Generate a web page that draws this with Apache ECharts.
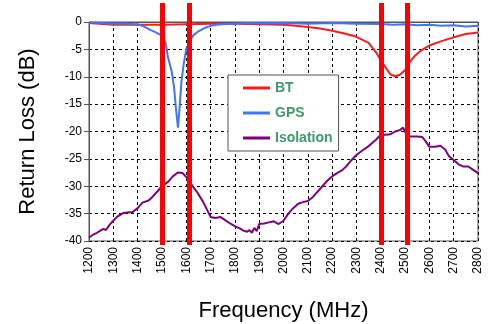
<!DOCTYPE html>
<html>
<head>
<meta charset="utf-8">
<script src="https://cdn.jsdelivr.net/npm/echarts@6/dist/echarts.min.js"></script>
<style>
  html, body { margin: 0; padding: 0; background: #fff; }
  #chart { width: 494px; height: 324px; }
</style>
</head>
<body>
<div id="chart"></div>
<script>
// frequency (MHz) / return loss (dB)
const btFreq = [1200, 1300, 1400, 1500, 1600, 1700, 1800, 1900, 2000, 2050, 2100, 2150, 2200, 2250, 2300, 2350, 2380, 2400, 2420, 2440, 2460, 2480, 2500, 2520, 2540, 2560, 2580, 2600, 2650, 2700, 2750, 2800];
const btLoss = [-0.2, -0.5, -0.5, -0.5, -0.4, -0.3, -0.3, -0.4, -0.5, -0.7, -0.9, -1.2, -1.6, -2.1, -2.7, -3.8, -5.5, -7.0, -8.3, -9.6, -9.9, -9.6, -8.8, -7.3, -6.2, -5.4, -4.8, -4.3, -3.5, -2.8, -2.2, -1.9];

const gpsFreq = [1200, 1250, 1300, 1350, 1400, 1425, 1450, 1475, 1500, 1515, 1525, 1540, 1550, 1558, 1566, 1572, 1580, 1590, 1600, 1615, 1630, 1650, 1675, 1700, 1725, 1750, 1800, 1850, 1900, 2000, 2100, 2200, 2300, 2400, 2450, 2500, 2550, 2600, 2650, 2700, 2750, 2800];
const gpsLoss = [-0.1, -0.2, -0.3, -0.3, -0.4, -0.8, -1.4, -1.9, -2.5, -3.8, -6.5, -9, -12, -16, -19.3, -16, -11, -7.5, -5, -3.4, -2.4, -1.7, -1.1, -0.7, -0.5, -0.4, -0.3, -0.2, -0.25, -0.2, -0.3, -0.2, -0.3, -0.35, -0.5, -0.4, -0.6, -0.5, -0.7, -0.6, -0.8, -0.7];

const isoFreq = [1200, 1215, 1233, 1250, 1260, 1270, 1285, 1300, 1315, 1340, 1360, 1380, 1400, 1420, 1445, 1460, 1480, 1500, 1525, 1545, 1565, 1585, 1600, 1615, 1630, 1645, 1670, 1700, 1720, 1740, 1760, 1780, 1800, 1820, 1835, 1850, 1860, 1870, 1880, 1890, 1900, 1920, 1940, 1960, 1980, 2000, 2020, 2040, 2060, 2080, 2100, 2120, 2140, 2160, 2180, 2200, 2220, 2240, 2260, 2280, 2300, 2320, 2340, 2360, 2380, 2400, 2420, 2440, 2460, 2480, 2492, 2505, 2520, 2550, 2570, 2585, 2600, 2625, 2645, 2665, 2680, 2700, 2720, 2740, 2760, 2780, 2800];
const isoLoss = [-39.4, -38.9, -38.5, -38.0, -37.8, -38.0, -37.0, -36.3, -35.6, -34.9, -34.8, -34.7, -34.0, -33.0, -32.6, -32.0, -31.0, -30.0, -29.2, -28.2, -27.5, -27.6, -28.3, -29.3, -30.2, -31.1, -32.9, -35.6, -35.8, -35.6, -36.2, -36.8, -37.3, -37.7, -38.1, -38.3, -38.0, -38.5, -37.6, -38.2, -36.9, -36.8, -36.6, -36.4, -36.9, -36.3, -35.0, -34.0, -33.2, -32.9, -32.7, -32.0, -31.0, -30.0, -29.0, -28.2, -27.6, -27.1, -26.3, -25.2, -24.3, -23.6, -23.0, -22.3, -21.5, -20.6, -20.6, -20.5, -20.0, -19.7, -19.3, -20.5, -20.9, -20.9, -21.0, -21.8, -22.8, -22.8, -22.6, -23.3, -24.5, -25.2, -26.0, -26.4, -26.4, -27.0, -27.6];

// band edges marked with thick red lines
const bandEdges = [1500, 1612, 2400, 2510];

const seriesNames = ['BT', 'GPS', 'Isolation'];

const pairs = (xs, ys) => xs.map((x, i) => [x, ys[i]]);

const myChart = echarts.init(document.getElementById('chart'));
myChart.setOption({
  animation: false,
  textStyle: { fontFamily: 'Liberation Sans, Arial, sans-serif', color: '#000' },
  grid: [
    { left: 89, right: 16, top: 22, bottom: 83, outerBoundsMode: 'none', show: true, borderColor: '#555', borderWidth: 1 },
    { left: 89, right: 16, top: 3, bottom: 79, outerBoundsMode: 'none' },
  ],
  legend: {
    data: seriesNames,
    orient: 'vertical',
    left: 228,
    top: 75,
    padding: [6, 6, 6, 15],
    itemGap: 11,
    itemWidth: 27,
    itemHeight: 3,
    icon: 'rect',
    backgroundColor: '#fff',
    borderColor: '#555',
    borderWidth: 1,
    textStyle: { color: '#3c9a6c', fontWeight: 'bold', fontSize: 14, fontFamily: 'Liberation Sans, Arial, sans-serif' },
  },
  xAxis: [
    {
      type: 'value',
      min: 1200,
      max: 2800,
      interval: 100,
      name: 'Frequency (MHz)',
      nameLocation: 'middle',
      nameGap: 59,
      nameTextStyle: { fontSize: 22, color: '#000' },
      axisLine: { lineStyle: { color: '#555' } },
      axisTick: { length: 4, lineStyle: { color: '#555' } },
      axisLabel: { rotate: 90, fontSize: 12, color: '#000', margin: 6, formatter: (v) => String(v) },
      splitLine: { lineStyle: { color: '#000', type: [3, 3] } },
    },
    { type: 'value', gridIndex: 1, min: 1200, max: 2800, show: false },
  ],
  yAxis: [
    {
      type: 'value',
      min: -40,
      max: 0,
      interval: 5,
      name: 'Return Loss (dB)',
      nameLocation: 'middle',
      nameGap: 50,
      nameTextStyle: { fontSize: 22, color: '#000' },
      axisLine: { show: true, lineStyle: { color: '#555' } },
      axisTick: { show: true, length: 5, lineStyle: { color: '#555' } },
      axisLabel: { fontSize: 12, color: '#000', margin: 7 },
      splitLine: { lineStyle: { color: '#000', type: [3, 3] } },
    },
    { type: 'value', gridIndex: 1, min: 0, max: 1, show: false },
  ],
  series: [
    {
      name: 'BT',
      type: 'line',
      symbol: 'none',
      data: pairs(btFreq, btLoss),
      lineStyle: { color: '#ff1a1a', width: 2 },
      itemStyle: { color: '#ff1a1a' },
      z: 2,
    },
    {
      name: 'GPS',
      type: 'line',
      symbol: 'none',
      data: pairs(gpsFreq, gpsLoss),
      lineStyle: { color: '#3f74ff', width: 2 },
      itemStyle: { color: '#3f74ff' },
      z: 3,
    },
    {
      name: 'Isolation',
      type: 'line',
      symbol: 'none',
      data: pairs(isoFreq, isoLoss),
      lineStyle: { color: '#800080', width: 2 },
      itemStyle: { color: '#800080' },
      z: 3,
    },
    {
      name: 'edges',
      type: 'line',
      xAxisIndex: 1,
      yAxisIndex: 1,
      data: [],
      z: 5,
      markLine: {
        silent: true,
        symbol: 'none',
        label: { show: false },
        lineStyle: { color: '#ff0000', width: 5, type: 'solid' },
        data: bandEdges.map((f) => ({ xAxis: f })),
      },
    },
  ],
});
</script>
</body>
</html>
